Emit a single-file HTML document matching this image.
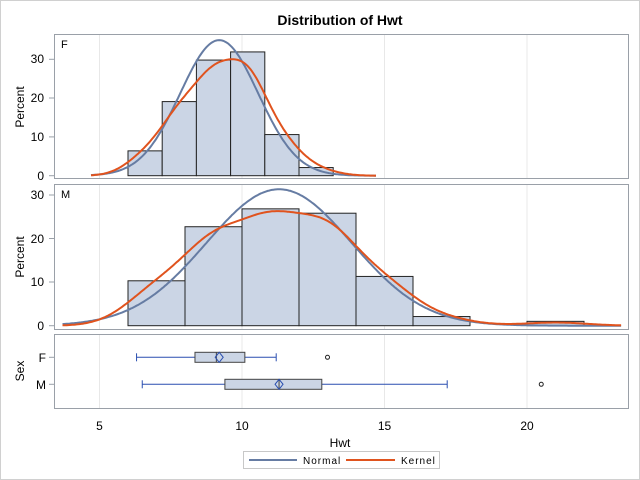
<!DOCTYPE html><html><head><style>body{margin:0;background:#fff}svg{display:block;font-family:"Liberation Sans",sans-serif}</style></head><body>
<svg id="s" width="640" height="480" xmlns="http://www.w3.org/2000/svg">
<rect x="0.5" y="0.5" width="639" height="479" fill="#fff" stroke="#d0d0d0"/>
<text x="340" y="25" font-size="14" font-weight="bold" text-anchor="middle">Distribution of Hwt</text>
<g stroke="#e8e8e8" stroke-width="1">
<line x1="99.5" y1="35" x2="99.5" y2="178"/><line x1="242" y1="35" x2="242" y2="178"/><line x1="384.5" y1="35" x2="384.5" y2="178"/><line x1="527" y1="35" x2="527" y2="178"/>
<line x1="99.5" y1="184" x2="99.5" y2="329"/><line x1="242" y1="184" x2="242" y2="329"/><line x1="384.5" y1="184" x2="384.5" y2="329"/><line x1="527" y1="184" x2="527" y2="329"/>
<line x1="99.5" y1="334" x2="99.5" y2="408"/><line x1="242" y1="334" x2="242" y2="408"/><line x1="384.5" y1="334" x2="384.5" y2="408"/><line x1="527" y1="334" x2="527" y2="408"/>
</g>
<g id="g"></g>
<g fill="none" stroke="#9aa0a8"><rect x="54.5" y="34.5" width="574" height="144"/><rect x="54.5" y="184.5" width="574" height="145"/><rect x="54.5" y="334.5" width="574" height="74"/></g>
<g font-size="12" text-anchor="end">
<text x="44" y="180">0</text><text x="44" y="141">10</text><text x="44" y="102">20</text><text x="44" y="63">30</text>
<text x="44" y="330">0</text><text x="44" y="286">10</text><text x="44" y="243">20</text><text x="44" y="199">30</text>
<text x="46" y="362">F</text><text x="46" y="389">M</text>
</g>
<g stroke="#9aa0a8"><line x1="49" y1="175.7" x2="54" y2="175.7"/><line x1="49" y1="136.9" x2="54" y2="136.9"/><line x1="49" y1="98" x2="54" y2="98"/><line x1="49" y1="59.3" x2="54" y2="59.3"/>
<line x1="49" y1="325.7" x2="54" y2="325.7"/><line x1="49" y1="282" x2="54" y2="282"/><line x1="49" y1="238.5" x2="54" y2="238.5"/><line x1="49" y1="195" x2="54" y2="195"/>
<line x1="49" y1="357.3" x2="54" y2="357.3"/><line x1="49" y1="384.3" x2="54" y2="384.3"/></g>
<g font-size="12" text-anchor="middle"><text x="99.5" y="430">5</text><text x="242" y="430">10</text><text x="384.5" y="430">15</text><text x="527" y="430">20</text><text x="340" y="447">Hwt</text></g>
<g font-size="12" text-anchor="middle">
<text transform="translate(24,107) rotate(-90)">Percent</text><text transform="translate(24,257) rotate(-90)">Percent</text><text transform="translate(24,371) rotate(-90)">Sex</text></g>
<text x="61" y="48" font-size="11">F</text><text x="61" y="198" font-size="11">M</text>
<rect x="243.5" y="451.5" width="196" height="17" fill="#fff" stroke="#c8c8c8"/>
<line x1="249" y1="460" x2="297" y2="460" stroke="#667ca3" stroke-width="2"/><text x="303" y="464" font-size="10" letter-spacing="1">Normal</text>
<line x1="346" y1="460" x2="395" y2="460" stroke="#e0531e" stroke-width="2"/><text x="401" y="464" font-size="10" letter-spacing="1">Kernel</text>
</svg>
<script>
const X=v=>99.5+(v-5)*28.5;
let h='';
function panel(start,w,hs,y0,sc,mu,sd,kx0,kx1,bw){
 hs.forEach((p,i)=>{if(p>0)h+=`<rect x="${X(start+i*w)}" y="${y0-p*sc}" width="${w*28.5}" height="${p*sc}" fill="#cbd5e5" stroke="#222" stroke-width="1"/>`});
 let d='';for(let v=kx0;v<=kx1+1e-9;v+=0.05){let p=w*100/(sd*2.5066)*Math.exp(-0.5*((v-mu)/sd)**2);d+=(d?'L':'M')+X(v).toFixed(1)+','+(y0-p*sc).toFixed(1)}
 h+=`<path d="${d}" fill="none" stroke="#667ca3" stroke-width="2"/>`;
 let tot=hs.reduce((a,b)=>a+b,0);d='';
 for(let v=kx0;v<=kx1+1e-9;v+=0.05){let s=0;hs.forEach((p,i)=>{let c=start+(i+.5)*w;s+=p/tot*Math.exp(-0.5*((v-c)/bw)**2)/(bw*2.5066)});let p=s*w*100;d+=(d?'L':'M')+X(v).toFixed(1)+','+(y0-p*sc).toFixed(1)}
 h+=`<path d="${d}" fill="none" stroke="#e0531e" stroke-width="2"/>`;
}
panel(6,1.2,[6.4,19.1,29.8,31.9,10.6,2.1],175.7,3.88,9.2,1.37,4.7,14.7,0.7);
panel(6,2,[10.3,22.7,26.8,25.8,11.3,2.1,0,1.0],325.7,4.36,11.3,2.55,3.7,23.3,1.1);
function box(y,w0,q1,q3,w1,mean,med,out){
 h+=`<g stroke="#2a4fb0" stroke-width="1"><line x1="${X(w0)}" y1="${y}" x2="${X(q1)}" y2="${y}"/><line x1="${X(q3)}" y1="${y}" x2="${X(w1)}" y2="${y}"/><line x1="${X(w0)}" y1="${y-4}" x2="${X(w0)}" y2="${y+4}"/><line x1="${X(w1)}" y1="${y-4}" x2="${X(w1)}" y2="${y+4}"/></g>`;
 h+=`<rect x="${X(q1)}" y="${y-5}" width="${X(q3)-X(q1)}" height="10" fill="#cbd5e5" stroke="#444"/>`;
 h+=`<line x1="${X(med)}" y1="${y-5}" x2="${X(med)}" y2="${y+5}" stroke="#444"/>`;
 let m=X(mean);h+=`<path d="M${m},${y-5}L${m+4},${y}L${m},${y+5}L${m-4},${y}Z" fill="none" stroke="#2a4fb0"/>`;
 h+=`<circle cx="${X(out)}" cy="${y}" r="2" fill="none" stroke="#222"/>`;
}
box(357.3,6.3,8.35,10.1,11.2,9.2,9.1,13.0);
box(384.3,6.5,9.4,12.8,17.2,11.3,11.3,20.5);
document.getElementById('g').innerHTML=h;
</script>
</body></html>
